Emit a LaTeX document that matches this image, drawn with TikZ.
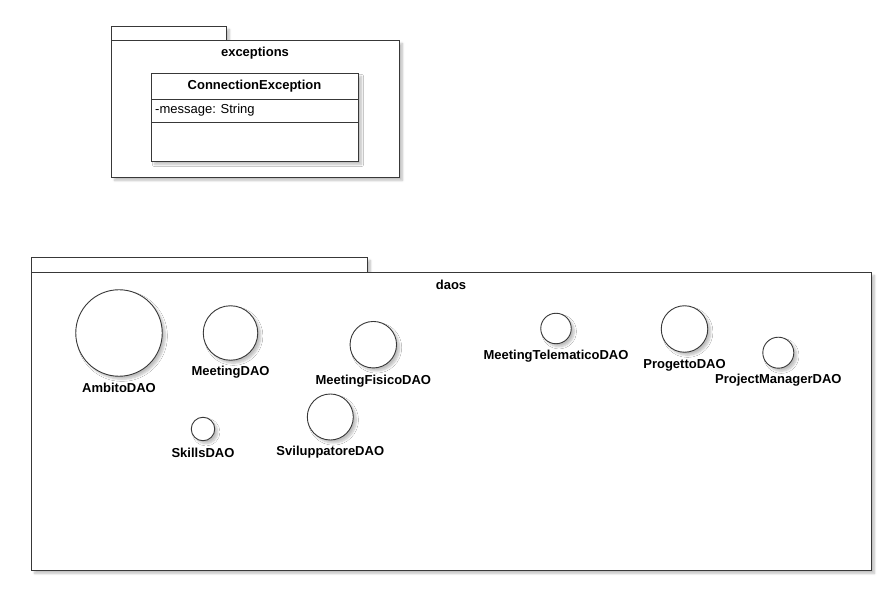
\documentclass[tikz,border=0pt]{standalone}
\usepackage{fontspec}
\setmainfont{Liberation Sans}
\usepackage{tikz}
\usetikzlibrary{positioning, calc, shadows.blur}

\tikzset{
	umlline/.style={draw=black!78, line width=0.9pt},
	dropshadow/.style={blur shadow={shadow xshift=3pt, shadow yshift=-3pt, shadow blur steps=6, shadow opacity=25}},
	pkgtab/.style={umlline, fill=white, inner sep=0pt, dropshadow},
	pkgbody/.style={umlline, fill=white, inner sep=0pt, dropshadow},
	pkgname/.style={font=\fontsize{13}{15}\selectfont\bfseries},
	classbox/.style={umlline, fill=white, inner sep=0pt, dropshadow},
	attr/.style={font=\fontsize{13}{15}\selectfont, anchor=west, inner sep=0pt},
	iface/.style={circle, umlline, fill=white, inner sep=0pt, dropshadow},
	lbl/.style={font=\fontsize{13}{15}\selectfont\bfseries, inner sep=0pt}
}

\begin{document}
\begin{tikzpicture}[x=1pt, y=-1pt]
	\useasboundingbox (0,0) rectangle (889,609);

	% Package exceptions
	\node[pkgtab, anchor=north west, minimum width=115, minimum height=15] (excTab) at (111,26) {};
	\node[pkgbody, anchor=north west, minimum width=288, minimum height=137] (excBody) at (111,40) {};
	\node[pkgname] (excName) at (255,53) {exceptions};

	% Class ConnectionException
	\node[classbox, anchor=north west, minimum width=207, minimum height=88] (connExc) at (151,73) {};
	\node[lbl] (connExcName) at (254.5,86) {ConnectionException};
	\draw[umlline] ($(connExc.north west)+(0,26)$) -- ($(connExc.north east)+(0,26)$);
	\draw[umlline] ($(connExc.north west)+(0,49)$) -- ($(connExc.north east)+(0,49)$);
	\node[attr] (connExcMsg) at (155,110) {-message: String};

	% Package daos
	\node[pkgtab, anchor=north west, minimum width=336, minimum height=15] (daosTab) at (31,257) {};
	\node[pkgbody, anchor=north west, minimum width=840, minimum height=298] (daosBody) at (31,272) {};
	\node[pkgname] (daosName) at (451,285) {daos};

	% Interfaces
	\node[iface, minimum size=86.5] (ambito) at (119,333) {};
	\node[lbl] (ambitoLbl) at (119,388) {AmbitoDAO};
	\node[iface, minimum size=54.5] (meeting) at (230.5,333) {};
	\node[lbl] (meetingLbl) at (230.5,372) {MeetingDAO};
	\node[iface, minimum size=46.5] (meetingFisico) at (373.3,344.7) {};
	\node[lbl] (meetingFisicoLbl) at (373.3,381) {MeetingFisicoDAO};
	\node[iface, minimum size=30.5] (meetingTelematico) at (556,328.5) {};
	\node[lbl] (meetingTelematicoLbl) at (556,356.5) {MeetingTelematicoDAO};
	\node[iface, minimum size=46.5] (progetto) at (684.5,329) {};
	\node[lbl] (progettoLbl) at (684.5,365) {ProgettoDAO};
	\node[iface, minimum size=31] (projectManager) at (778.3,352.7) {};
	\node[lbl] (projectManagerLbl) at (778.3,380) {ProjectManagerDAO};
	\node[iface, minimum size=23.5] (skills) at (203,429) {};
	\node[lbl] (skillsLbl) at (203,453) {SkillsDAO};
	\node[iface, minimum size=46] (sviluppatore) at (330.3,417) {};
	\node[lbl] (sviluppatoreLbl) at (330.3,452) {SviluppatoreDAO};
\end{tikzpicture}
\end{document}
